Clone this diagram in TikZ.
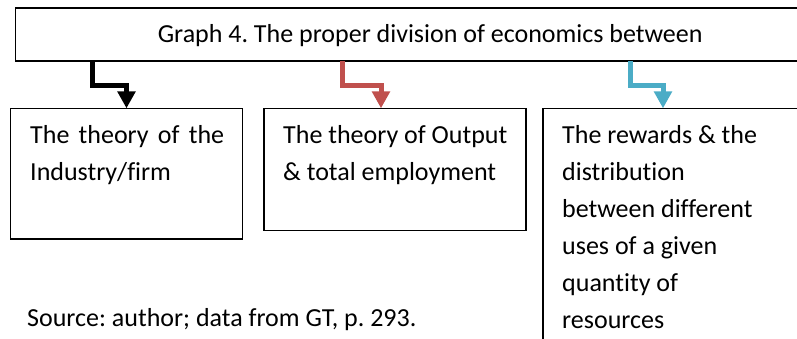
\documentclass[tikz,border=0pt]{standalone}
\usepackage{fontspec}
\setmainfont{Carlito}[Ligatures={NoCommon}]
\usepackage{tikz}
\usetikzlibrary{arrows.meta,positioning,calc}
\definecolor{cred}{RGB}{192,80,77}
\definecolor{cblue}{RGB}{75,172,198}
\newcommand{\boxfont}{\fontsize{26}{37}\selectfont\frenchspacing}

\begin{document}
\begin{tikzpicture}[
  x=1pt, y=1pt,
  font=\boxfont,
  frame/.style={draw, line width=1.2pt, anchor=north west, inner sep=0pt, outer sep=0pt},
  boxtext/.style={anchor=north west, inner sep=0pt, align=left},
  flow/.style={line width=5pt, line join=miter, -{Triangle[length=17pt,width=17.5pt]}},
]
\useasboundingbox (0,0) rectangle (797,339);
\clip (0,0) rectangle (797,339);
\node[frame, minimum width=829pt, minimum height=53pt, text height=20pt, text depth=3pt] (title) at (15.7,331) {Graph 4. The proper division of economics between};
\node[frame, minimum width=232pt, minimum height=130.7pt] (box1) at (10.7,230.7) {};
\node[frame, minimum width=262pt, minimum height=122.4pt] (box2) at (264,230.7) {};
\node[frame, minimum width=300pt, minimum height=260pt] (box3) at (543,230.7) {};
\node[boxtext] (t1) at ([xshift=19.3pt, yshift=-8.8pt]box1.north west) {\strut\makebox[194pt][s]{The theory of the}\\Industry/firm};
\node[boxtext] (t2) at ([xshift=19pt, yshift=-8.8pt]box2.north west) {\strut The theory of Output\\\& total employment};
\node[boxtext] (t3) at ([xshift=19pt, yshift=-8.8pt]box3.north west) {\strut The rewards \& the\\distribution\\between different\\uses of a given\\quantity of\\resources};
\node[anchor=base west, inner sep=0pt] (src) at (27,12) {Source: author; data from GT, p. 293.};
\draw[flow] (title.south -| 92,0) -- ++(0,-25) -| (box1.north -| 126.5,0);
\draw[flow, cred] (title.south -| 342.5,0) -- ++(0,-25) -| (box2.north -| 381,0);
\draw[flow, cblue] (title.south -| 630.5,0) -- ++(0,-25) -| (box3.north -| 663,0);
\end{tikzpicture}
\end{document}
